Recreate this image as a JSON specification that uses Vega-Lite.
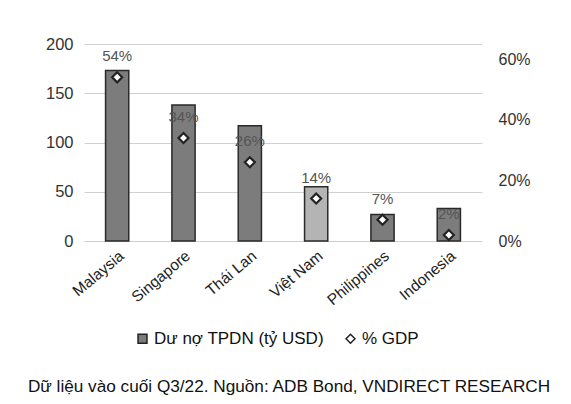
{
  "$schema": "https://vega.github.io/schema/vega-lite/v6.json",
  "width": 398,
  "height": 197,
  "autosize": {"type": "none"},
  "padding": {"left": 84, "top": 44, "right": 89, "bottom": 163},
  "background": "white",
  "config": {
    "font": "Liberation Sans",
    "view": {"stroke": null},
    "axis": {"labelFont": "Liberation Sans", "labelColor": "#333333", "titleColor": "#333333"},
    "legend": {"labelLimit": 400}
  },
  "title": {
    "text": "Dữ liệu vào cuối Q3/22. Nguồn: ADB Bond, VNDIRECT RESEARCH",
    "orient": "bottom",
    "anchor": "middle",
    "font": "Liberation Sans",
    "fontSize": 17.2,
    "fontWeight": "normal",
    "color": "#111111",
    "offset": 31,
    "dx": 6
  },
  "data": {
    "values": [
      {"country": "Malaysia", "debt": 173, "gdp": 0.54},
      {"country": "Singapore", "debt": 138, "gdp": 0.34},
      {"country": "Thái Lan", "debt": 117, "gdp": 0.26},
      {"country": "Việt Nam", "debt": 55, "gdp": 0.14},
      {"country": "Philippines", "debt": 27, "gdp": 0.07},
      {"country": "Indonesia", "debt": 33, "gdp": 0.02}
    ]
  },
  "encoding": {
    "x": {
      "field": "country",
      "type": "nominal",
      "sort": null,
      "scale": {"paddingInner": 0.65, "paddingOuter": 0.325},
      "axis": {
        "title": null,
        "labelAngle": -40,
        "labelFontSize": 15.5,
        "labelColor": "#222222",
        "ticks": false,
        "domain": false,
        "labelPadding": 7
      }
    }
  },
  "layer": [
    {
      "mark": {"type": "bar", "stroke": "#2a2a2a", "strokeWidth": 1.5},
      "encoding": {
        "y": {
          "field": "debt",
          "type": "quantitative",
          "scale": {"domain": [0, 200]},
          "axis": {
            "title": null,
            "values": [0, 50, 100, 150, 200],
            "labelFontSize": 16.5,
            "ticks": false,
            "domain": false,
            "labelPadding": 11,
            "gridColor": "#d0d0d0",
            "gridWidth": 1
          }
        },
        "fill": {
          "condition": {"test": "datum.country === 'Việt Nam'", "value": "#b4b4b4"},
          "value": "#7c7c7c"
        }
      }
    },
    {
      "mark": {"type": "point", "filled": true, "strokeWidth": 2.2, "size": 100, "opacity": 1},
      "encoding": {
        "y": {
          "field": "gdp",
          "type": "quantitative",
          "scale": {"domain": [0, 0.65]},
          "axis": {
            "orient": "right",
            "title": null,
            "values": [0, 0.2, 0.4, 0.6],
            "format": ".0%",
            "labelFontSize": 16,
            "ticks": false,
            "domain": false,
            "grid": false,
            "labelPadding": 16
          }
        },
        "shape": {
          "datum": "% GDP",
          "scale": {"domain": ["Dư nợ TPDN (tỷ USD)", "% GDP"], "range": ["square", "diamond"]},
          "legend": {
            "title": null,
            "orient": "none",
            "legendX": 50,
            "legendY": 286,
            "direction": "horizontal",
            "labelFontSize": 17,
            "labelColor": "#111111",
            "labelOffset": 3,
            "labelLimit": 400,
            "symbolSize": 80,
            "symbolStrokeWidth": 1.5,
            "columnPadding": 18
          }
        },
        "fill": {
          "datum": "% GDP",
          "scale": {"domain": ["Dư nợ TPDN (tỷ USD)", "% GDP"], "range": ["#7c7c7c", "white"]},
          "legend": {
            "title": null,
            "orient": "none",
            "legendX": 50,
            "legendY": 286,
            "direction": "horizontal",
            "labelFontSize": 17,
            "labelColor": "#111111",
            "labelOffset": 3,
            "labelLimit": 400,
            "symbolSize": 80,
            "symbolStrokeWidth": 1.5,
            "columnPadding": 18
          }
        },
        "stroke": {
          "datum": "% GDP",
          "scale": {"domain": ["Dư nợ TPDN (tỷ USD)", "% GDP"], "range": ["#222222", "#222222"]},
          "legend": {
            "title": null,
            "orient": "none",
            "legendX": 50,
            "legendY": 286,
            "direction": "horizontal",
            "labelFontSize": 17,
            "labelColor": "#111111",
            "labelOffset": 3,
            "labelLimit": 400,
            "symbolSize": 80,
            "symbolStrokeWidth": 1.5,
            "columnPadding": 18
          }
        }
      }
    },
    {
      "mark": {"type": "text", "dy": -21, "fontSize": 15, "color": "#555555", "font": "Liberation Sans"},
      "encoding": {
        "y": {"field": "gdp", "type": "quantitative", "scale": {"domain": [0, 0.65]}, "axis": null},
        "text": {"field": "gdp", "type": "quantitative", "format": ".0%"}
      }
    }
  ],
  "resolve": {"scale": {"y": "independent"}}
}
